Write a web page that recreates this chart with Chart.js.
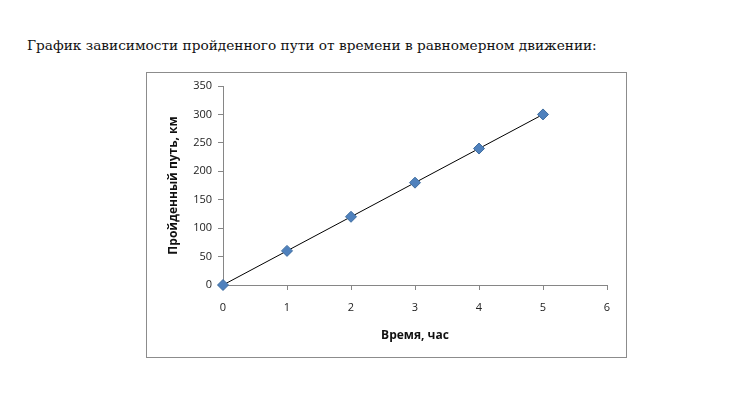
<!DOCTYPE html>
<html>
<head>
<meta charset="utf-8">
<script src="https://cdn.jsdelivr.net/npm/chart.js@4"></script>
<style>
  body { margin: 0; background: #fff; width: 733px; height: 402px; position: relative; overflow: hidden; }
  #heading {
    position: absolute; left: 27px; top: 37px; margin: 0;
    font-family: 'DejaVu Serif', 'Liberation Serif', serif; font-size: 13.7px; font-weight: normal;
    color: #111; white-space: nowrap;
  }
  #chartBox {
    position: absolute; left: 146px; top: 72px; width: 479px; height: 284px;
    border: 1px solid #8c8c8c;
  }
</style>
</head>
<body>
<p id="heading">График зависимости пройденного пути от времени в равномерном движении:</p>
<div id="chartBox"><canvas id="myChart" width="479" height="284"></canvas></div>
<script>
// данные графика: время (ч) и пройденный путь (км)
const hours = [0, 1, 2, 3, 4, 5];
const distanceKm = [0, 60, 120, 180, 240, 300];
const xAxisTitle = 'Время, час';
const yAxisTitle = 'Пройденный путь, км';

const tickFont = { family: "'Open Sans', 'Liberation Sans', sans-serif", size: 11 };
const titleFont = { family: "'Open Sans', 'Liberation Sans', sans-serif", size: 12, weight: 'bold' };
const axisGray = '#868686';

const points = hours.map((h, i) => ({ x: h, y: distanceKm[i] }));

const data = {
  datasets: [
    {
      label: 'Путь',
      data: points,
      showLine: true,
      clip: false,
      borderColor: '#000',
      borderWidth: 1,
      pointStyle: 'rectRot',
      pointRadius: 5.5,
      pointBackgroundColor: '#4f81bd',
      pointBorderColor: '#3f6d9f',
      pointBorderWidth: 1,
    },
  ],
};

const config = {
  type: 'scatter',
  data: data,
  options: {
    responsive: false,
    animation: false,
    layout: { padding: { left: 0, right: 19, top: 13, bottom: 0 } },
    plugins: { legend: { display: false }, tooltip: { enabled: false } },
    scales: {
      x: {
        type: 'linear',
        min: 0,
        max: 6,
        ticks: { stepSize: 1, color: '#222', font: tickFont, padding: 11 },
        grid: { drawOnChartArea: false, color: axisGray, tickLength: 5 },
        border: { color: axisGray },
        title: { display: true, text: xAxisTitle, color: '#111', font: titleFont, padding: { top: 10, bottom: 14 } },
        afterFit: (s) => { s.height = 72; },
      },
      y: {
        min: 0,
        max: 350,
        ticks: { stepSize: 50, color: '#222', font: tickFont, padding: 6 },
        grid: { drawOnChartArea: false, color: axisGray, tickLength: 5 },
        border: { color: axisGray },
        title: { display: true, text: yAxisTitle, color: '#111', font: titleFont, padding: { top: 19, bottom: 0 } },
        afterFit: (s) => { s.width = 76; },
      },
    },
  },
};

const myChart = new Chart(document.getElementById('myChart'), config);
</script>
</body>
</html>
